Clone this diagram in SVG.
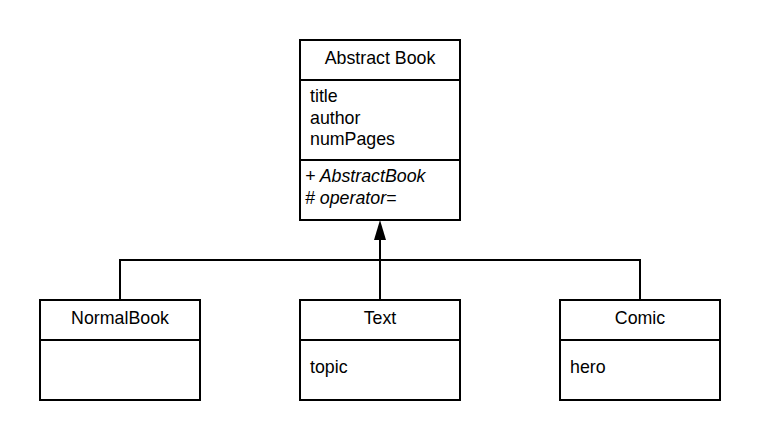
<svg xmlns="http://www.w3.org/2000/svg" width="760" height="440" viewBox="0 0 760 440">
<style>
.box{fill:#fff;stroke:#000;stroke-width:2}
.ln{stroke:#000;stroke-width:2;fill:none}
text{font-family:"Liberation Sans",Arial,sans-serif;font-size:17.8px;fill:#000}
.c{text-anchor:middle}
.i{font-style:italic}
</style>
<rect width="760" height="440" fill="#fff"/>
<g id="connectors">
<path class="ln" d="M120,300 V260 H640 V300"/>
<path class="ln" d="M380,300 V240"/>
<path d="M380,220 L386,240 L374,240 Z" fill="#000"/>
</g>
<g id="abstractbook">
<rect class="box" x="300" y="40" width="160" height="180"/>
<path class="ln" d="M300,80 H460 M300,160 H460"/>
<text class="c" x="380" y="64">Abstract Book</text>
<text x="310" y="102">title</text>
<text x="310" y="123.5">author</text>
<text x="310" y="145">numPages</text>
<text class="i" x="305" y="182">+ AbstractBook</text>
<text class="i" x="305" y="203.5"># operator=</text>
</g>
<g id="normalbook">
<rect class="box" x="40" y="300" width="160" height="100"/>
<path class="ln" d="M40,340 H200"/>
<text class="c" x="120" y="324">NormalBook</text>
</g>
<g id="text">
<rect class="box" x="300" y="300" width="160" height="100"/>
<path class="ln" d="M300,340 H460"/>
<text class="c" x="380" y="324">Text</text>
<text x="310" y="373">topic</text>
</g>
<g id="comic">
<rect class="box" x="560" y="300" width="160" height="100"/>
<path class="ln" d="M560,340 H720"/>
<text class="c" x="640" y="324">Comic</text>
<text x="570" y="373">hero</text>
</g>
</svg>
